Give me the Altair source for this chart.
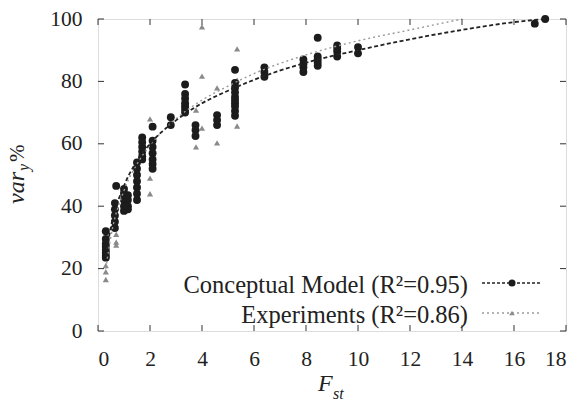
import altair as alt
import pandas as pd

# Conceptual model points (black circles)
model_x = [0.3, 0.3, 0.3, 0.3, 0.3, 0.3, 0.3, 0.3,
           0.65, 0.65, 0.65, 0.65, 0.65, 0.7,
           1.0, 1.0, 1.0, 1.0, 1.0, 1.15, 1.15, 1.15, 1.15,
           1.5, 1.5, 1.5, 1.5, 1.5, 1.5, 1.5,
           1.7, 1.7, 1.7, 1.7, 1.7, 1.7,
           2.1, 2.1, 2.1, 2.1, 2.1, 2.1, 2.1,
           2.8, 2.8,
           3.35, 3.35, 3.35, 3.35, 3.35, 3.35, 3.35,
           3.75, 3.75, 3.75,
           4.58, 4.58, 4.58,
           5.27, 5.27, 5.27, 5.27, 5.27, 5.27, 5.27, 5.27, 5.27, 5.27,
           6.4, 6.4, 6.4,
           7.9, 7.9, 7.9, 7.9,
           8.45, 8.45, 8.45, 8.45, 8.45,
           9.2, 9.2, 9.2, 9.2,
           10.0, 10.0,
           16.8, 17.2]
model_y = [32, 29.5, 28, 27, 26, 25, 24, 23.5,
           41, 39, 37, 35, 33, 46.5,
           45.5, 44, 42, 40, 38.5, 43.5, 42, 40, 39,
           54, 52, 50, 48, 46, 44, 42,
           62, 60.5, 59, 57.5, 56, 55,
           65.5, 61, 59, 57, 55, 53.5, 52,
           68.5, 66,
           79, 76, 74.5, 73, 72, 71, 70,
           66, 64.4, 62.5,
           69.2, 67.6, 66,
           83.7, 79.5, 78, 76.5, 75, 74, 73, 72, 70.5, 69,
           84.5, 83, 81.5,
           87, 85.5, 84.5, 83,
           94, 88, 87, 86, 85,
           91.5, 90.5, 89.5, 88,
           91, 89,
           98.5, 100]

# Experiment points (grey triangles)
exp_x = [0.3, 0.3, 0.3, 0.7, 0.7, 0.7, 2.0, 2.0, 2.0,
         3.77, 3.77, 4.0, 4.0, 4.0, 4.58, 4.58, 5.35, 5.35, 5.35]
exp_y = [21, 19, 16.5, 31, 28.5, 27.5, 68, 49, 44,
         70.8, 59, 97.5, 81.7, 65, 77.9, 60.3, 90.4, 80.4, 65.7]

# Fitted curves
fit_model_x = [0.3, 0.5, 1, 1.5, 2, 3, 4, 5, 6, 8, 10, 12, 14, 16, 17.2]
fit_model_y = [24, 33.5, 46.5, 54.5, 60, 67.5, 73, 77, 80.5, 86, 90, 93.5, 96.5, 99, 100]
fit_exp_x = [0.3, 0.5, 1, 1.5, 2, 3, 4, 5, 6, 8, 10, 12, 14]
fit_exp_y = [20, 30.5, 45, 53.5, 59.5, 68, 74, 78.5, 82.5, 88.5, 93, 96.5, 100]

x_ticks = [0, 2, 4, 6, 8, 10, 12, 14, 16, 18]
y_ticks = [0, 20, 40, 60, 80, 100]

legend_labels = ["Conceptual Model (R²=0.95)", "Experiments (R²=0.86)"]

FONT = "Liberation Serif"
BLACK = "#1c1c1c"
GREY = "#8a8a8a"
W, H = 468, 312

xs = alt.Scale(domain=[0, 18], nice=False, zero=False)
ys = alt.Scale(domain=[0, 100], nice=False, zero=False)

xaxis = alt.Axis(values=x_ticks, title=None, grid=False, ticks=False, tickSize=0,
                 domain=False, labelFont=FONT, labelFontSize=21.5, labelColor="#222",
                 labelPadding=17, format="d")
yaxis = alt.Axis(values=y_ticks, title=None, grid=False, ticks=False, tickSize=0,
                 domain=False, labelFont=FONT, labelFontSize=21.5, labelColor="#222",
                 labelPadding=16, format="d")

m_df = pd.DataFrame({"x": model_x, "y": model_y})
e_df = pd.DataFrame({"x": exp_x, "y": exp_y})
fm_df = pd.DataFrame({"x": fit_model_x, "y": fit_model_y})
fe_df = pd.DataFrame({"x": fit_exp_x, "y": fit_exp_y})
xt_df = pd.DataFrame({"v": x_ticks})
yt_df = pd.DataFrame({"v": y_ticks})

base_axes = alt.Chart(m_df).mark_point(opacity=0).encode(
    x=alt.X("x:Q", scale=xs, axis=xaxis),
    y=alt.Y("y:Q", scale=ys, axis=yaxis),
)

exp_pts = alt.Chart(e_df).mark_point(shape="triangle-up", filled=True, color=GREY,
                                     size=38, opacity=1).encode(
    x=alt.X("x:Q", scale=xs), y=alt.Y("y:Q", scale=ys))

model_pts = alt.Chart(m_df).mark_circle(color=BLACK, size=62, opacity=1).encode(
    x=alt.X("x:Q", scale=xs), y=alt.Y("y:Q", scale=ys))

fit_m = alt.Chart(fm_df).mark_line(color="#222", strokeDash=[4, 2.5], strokeWidth=1.8,
                                   interpolate="monotone").encode(
    x=alt.X("x:Q", scale=xs), y=alt.Y("y:Q", scale=ys))
fit_e = alt.Chart(fe_df).mark_line(color="#9a9a9a", strokeDash=[2, 3], strokeWidth=1.4,
                                   interpolate="monotone").encode(
    x=alt.X("x:Q", scale=xs), y=alt.Y("y:Q", scale=ys))

tk = dict(color="#333", strokeWidth=1)
tick_b = alt.Chart(xt_df).mark_rule(**tk).encode(x=alt.X("v:Q", scale=xs), y=alt.value(H), y2=alt.value(H - 6))
tick_t = alt.Chart(xt_df).mark_rule(**tk).encode(x=alt.X("v:Q", scale=xs), y=alt.value(0), y2=alt.value(6))
tick_l = alt.Chart(yt_df).mark_rule(**tk).encode(y=alt.Y("v:Q", scale=ys), x=alt.value(0), x2=alt.value(6))
tick_r = alt.Chart(yt_df).mark_rule(**tk).encode(y=alt.Y("v:Q", scale=ys), x=alt.value(W), x2=alt.value(W - 6))

one = pd.DataFrame({"t": [0]})


def txt(s, x, y, size, italic=False, angle=0, align="left", baseline="alphabetic", color="#222"):
    kw = dict(text=s, font=FONT, fontSize=size, align=align, baseline=baseline, color=color)
    if italic:
        kw["fontStyle"] = "italic"
    if angle:
        kw["angle"] = angle
    return alt.Chart(one).mark_text(**kw).encode(x=alt.value(x), y=alt.value(y))


# axis titles
xt1 = txt("F", 220, 372, 24, italic=True)
xt2 = txt("st", 235, 380, 16, italic=True)
yt1 = txt("var", -74, 185, 24, italic=True, angle=270)
yt2 = txt("y", -69, 152, 16, italic=True, angle=270)
yt3 = txt("%", -74, 143, 21, angle=270)

# legend
leg1 = txt(legend_labels[0], 370, 267, 24.5, align="right", baseline="middle")
leg2 = txt(legend_labels[1], 370, 297, 24.5, align="right", baseline="middle")
l1_line = alt.Chart(one).mark_rule(color="#222", strokeDash=[3, 2], strokeWidth=1.6).encode(
    x=alt.value(384), x2=alt.value(444), y=alt.value(264))
l1_pt = alt.Chart(one).mark_circle(color=BLACK, size=50, opacity=1).encode(x=alt.value(414), y=alt.value(264))
l2_line = alt.Chart(one).mark_rule(color="#9a9a9a", strokeDash=[2, 3], strokeWidth=1.3).encode(
    x=alt.value(384), x2=alt.value(444), y=alt.value(294))
l2_pt = alt.Chart(one).mark_point(shape="triangle-up", filled=True, color=GREY, size=30, opacity=1).encode(
    x=alt.value(414), y=alt.value(294))

chart = alt.layer(
    base_axes, exp_pts, model_pts, fit_e, fit_m,
    tick_b, tick_t, tick_l, tick_r,
    xt1, xt2, yt1, yt2, yt3,
    leg1, leg2, l1_line, l1_pt, l2_line, l2_pt,
).properties(
    width=W, height=H,
    autosize=alt.AutoSizeParams(type="none"),
    padding={"left": 90, "top": 11, "right": 10, "bottom": 72},
).configure_view(stroke="#333", strokeWidth=1.2).configure(background="white")

chart.save("out.html", embed_options={"renderer": "svg", "actions": False})
